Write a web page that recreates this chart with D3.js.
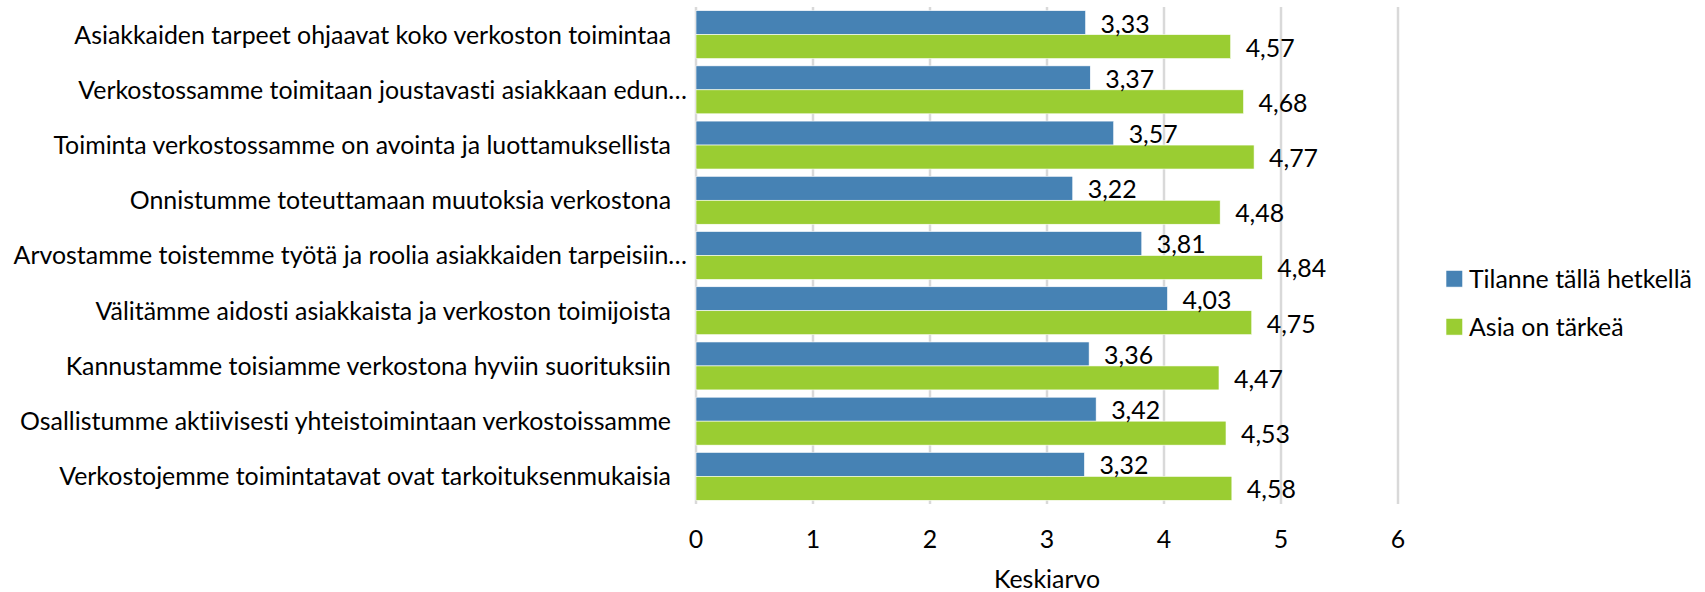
<!DOCTYPE html>
<html>
<head>
<meta charset="utf-8">
<script src="https://cdn.jsdelivr.net/npm/d3@7"></script>
<style>
  html, body { margin: 0; padding: 0; background: #fff; }
  svg { display: block; }
  text { font-family: Lato, "Open Sans", sans-serif; fill: #000; font-variant-ligatures: none; font-feature-settings: "liga" 0, "clig" 0, "dlig" 0; }
</style>
</head>
<body>
<svg id="chart" width="1705" height="592"></svg>
<script>
const categories = [
  "Asiakkaiden tarpeet ohjaavat koko verkoston toimintaa",
  "Verkostossamme toimitaan joustavasti asiakkaan edun…",
  "Toiminta verkostossamme on avointa ja luottamuksellista",
  "Onnistumme toteuttamaan muutoksia verkostona",
  "Arvostamme toistemme työtä ja roolia asiakkaiden tarpeisiin…",
  "Välitämme aidosti asiakkaista ja verkoston toimijoista",
  "Kannustamme toisiamme verkostona hyviin suorituksiin",
  "Osallistumme aktiivisesti yhteistoimintaan verkostoissamme",
  "Verkostojemme toimintatavat ovat tarkoituksenmukaisia"
];
const seriesNames = ["Tilanne tällä hetkellä", "Asia on tärkeä"];
const currentValues = [3.33, 3.37, 3.57, 3.22, 3.81, 4.03, 3.36, 3.42, 3.32];
const importanceValues = [4.57, 4.68, 4.77, 4.48, 4.84, 4.75, 4.47, 4.53, 4.58];
const xTicks = [0, 1, 2, 3, 4, 5, 6];
const axisTitle = "Keskiarvo";
const colors = ["#4682B4", "#9ACD32"];

const seriesValues = [currentValues, importanceValues];
const svg = d3.select("#chart");

// fit font size so that text widths match the reference (Calibri-like metrics)
const probe = svg.append("text").attr("font-size", 100).text(categories[0]);
const w100 = probe.node().getComputedTextLength();
probe.remove();
const fs = 100 * 597 / w100;

const x = d3.scaleLinear().domain([0, 6]).range([696, 1398]);
const y = d3.scaleBand().domain(categories).range([7, 504]).paddingInner(0.132).paddingOuter(0.066);
const ySub = d3.scaleBand().domain(seriesNames).range([0, y.bandwidth()]);

// gridlines
svg.append("g").selectAll("line").data(xTicks).join("line")
  .attr("x1", d => x(d)).attr("x2", d => x(d))
  .attr("y1", 7).attr("y2", 504)
  .attr("stroke", "#d9d9d9").attr("stroke-width", 2.5);

// bars
const rows = categories.map((c, i) => seriesNames.map((s, j) => ({ c, s, j, v: seriesValues[j][i] })));
const g = svg.append("g");
g.selectAll("g").data(rows).join("g")
  .attr("transform", d => `translate(0,${y(d[0].c)})`)
  .each(function(row) {
    const gg = d3.select(this);
    gg.selectAll("rect").data(row).join("rect")
      .attr("x", x(0))
      .attr("y", d => ySub(d.s))
      .attr("width", d => x(d.v) - x(0))
      .attr("height", ySub.bandwidth())
      .attr("fill", d => colors[d.j])
      .attr("stroke", "#ffffff").attr("stroke-width", 0.6);
    gg.selectAll("text").data(row).join("text")
      .attr("x", d => x(d.v) + 15)
      .attr("y", d => ySub(d.s) + ySub.bandwidth() / 2 + 1)
      .attr("dy", "0.36em")
      .attr("font-size", fs)
      .text(d => d3.format(".2f")(d.v).replace(".", ","));
  });

// category labels
svg.append("g").selectAll("text").data(categories).join("text")
  .attr("x", d => d.endsWith("…") ? 687 : 671)
  .attr("y", d => y(d) + y.bandwidth() / 2)
  .attr("dy", "0.36em")
  .attr("text-anchor", "end")
  .attr("font-size", fs)
  .text(d => d);

// x axis tick labels
svg.append("g").selectAll("text").data(xTicks).join("text")
  .attr("x", d => x(d))
  .attr("y", 539.5)
  .attr("dy", "0.36em")
  .attr("text-anchor", "middle")
  .attr("font-size", fs)
  .text(d => d);

// axis title
svg.append("text")
  .attr("x", (x(0) + x(6)) / 2)
  .attr("y", 579)
  .attr("dy", "0.36em")
  .attr("text-anchor", "middle")
  .attr("font-size", fs)
  .text(axisTitle);

// legend
const legend = svg.append("g").selectAll("g").data(seriesNames).join("g")
  .attr("transform", (d, i) => `translate(1446,${278.7 + i * 48})`);
legend.append("rect")
  .attr("x", 0).attr("y", -8.3).attr("width", 16.7).attr("height", 16.7)
  .attr("fill", (d, i) => colors[i]).attr("stroke", "#ffffff").attr("stroke-width", 0.6);
legend.append("text")
  .attr("x", 23).attr("y", 0).attr("dy", "0.36em")
  .attr("font-size", fs)
  .text(d => d);
</script>
</body>
</html>
